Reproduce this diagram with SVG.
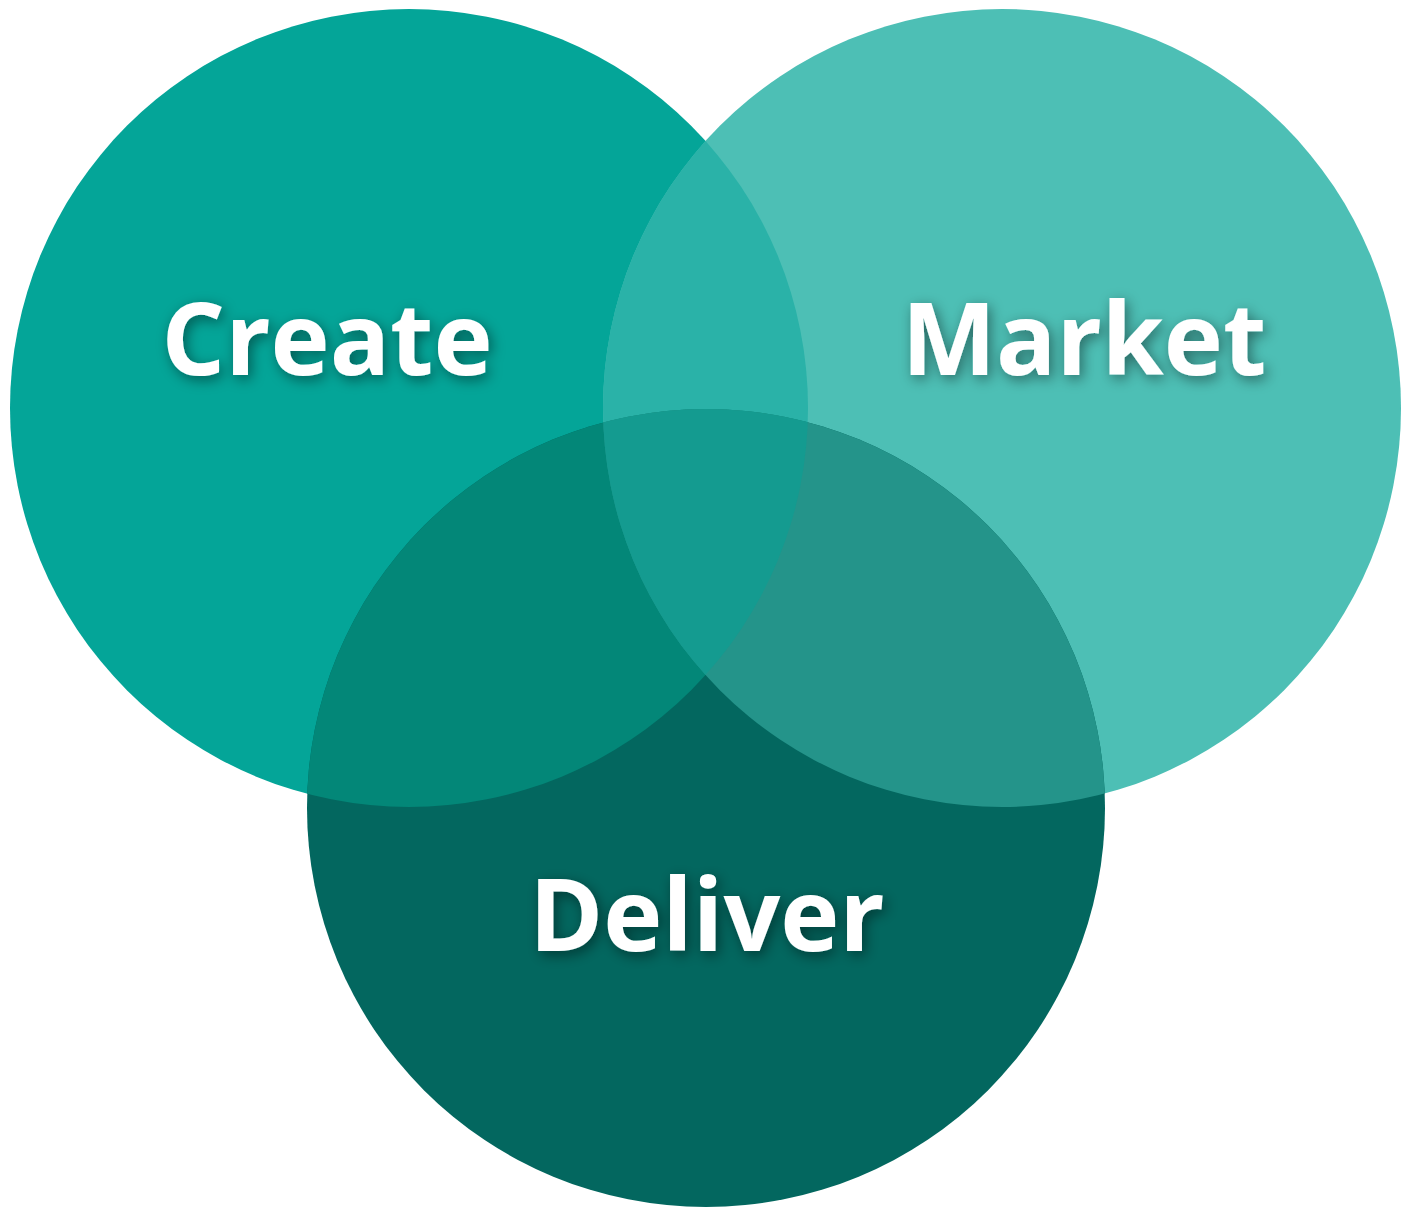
<svg xmlns="http://www.w3.org/2000/svg" width="1411" height="1207" viewBox="0 0 1411 1207">
<style>
.lbl{font-family:"Open Sans","Noto Sans","Liberation Sans",sans-serif;font-weight:700;font-size:100px;fill:#ffffff;text-anchor:middle;filter:url(#sh)}
</style>
<defs>
<filter id="sh" x="-20%" y="-40%" width="140%" height="180%">
<feDropShadow dx="3" dy="4" stdDeviation="7" flood-color="#000000" flood-opacity="0.45"/>
</filter>
<clipPath id="cC"><circle cx="409" cy="408" r="399"/></clipPath>
<clipPath id="cM"><circle cx="1002" cy="408" r="399"/></clipPath>
<clipPath id="cD"><circle cx="706" cy="808" r="399"/></clipPath>
</defs>
<rect width="1411" height="1207" fill="#ffffff"/>
<g id="create"><circle cx="409" cy="408" r="399" fill="#04A598"/></g>
<g id="market"><circle cx="1002" cy="408" r="399" fill="#4DBFB5"/></g>
<g id="deliver"><circle cx="706" cy="808" r="399" fill="#03675F"/></g>
<g id="overlaps">
<g clip-path="url(#cC)"><circle cx="1002" cy="408" r="399" fill="#2AB2A8"/></g>
<g clip-path="url(#cC)"><circle cx="706" cy="808" r="399" fill="#038778"/></g>
<g clip-path="url(#cM)"><circle cx="706" cy="808" r="399" fill="#24948A"/></g>
<g clip-path="url(#cC)"><g clip-path="url(#cM)"><circle cx="706" cy="808" r="399" fill="#149B90"/></g></g>
</g>
<g id="labels">
<text class="lbl" x="327" y="375">Create</text>
<text class="lbl" x="1084" y="375">Market</text>
<text class="lbl" x="707" y="951">Deliver</text>
</g>
</svg>
